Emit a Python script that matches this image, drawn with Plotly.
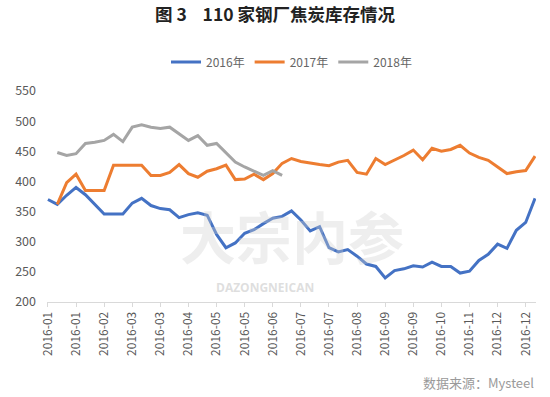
import plotly.graph_objects as go

weeks = [
    "2016-01-01", "2016-01-08", "2016-01-15", "2016-01-22", "2016-01-29",
    "2016-02-05", "2016-02-12", "2016-02-19", "2016-02-26",
    "2016-03-04", "2016-03-11", "2016-03-18", "2016-03-25",
    "2016-04-01", "2016-04-08", "2016-04-15", "2016-04-22", "2016-04-29",
    "2016-05-06", "2016-05-13", "2016-05-20", "2016-05-27",
    "2016-06-03", "2016-06-10", "2016-06-17", "2016-06-24",
    "2016-07-01", "2016-07-08", "2016-07-15", "2016-07-22", "2016-07-29",
    "2016-08-05", "2016-08-12", "2016-08-19", "2016-08-26",
    "2016-09-02", "2016-09-09", "2016-09-16", "2016-09-23", "2016-09-30",
    "2016-10-07", "2016-10-14", "2016-10-21", "2016-10-28",
    "2016-11-04", "2016-11-11", "2016-11-18", "2016-11-25",
    "2016-12-02", "2016-12-09", "2016-12-16", "2016-12-23", "2016-12-30",
]

s2016 = [370, 362, 377, 390, 378, 362, 346, 346, 346, 364, 372, 360, 355, 353,
         340, 345, 348, 344, 312, 290, 298, 314, 320, 330, 339, 342, 351, 336,
         318, 325, 290, 283, 287, 276, 263, 259, 240, 252, 255, 260, 258, 266,
         259, 259, 248, 251, 269, 279, 296, 289, 319, 332, 372]

s2017 = [362, 398, 412, 385, 385, 385, 427, 427, 427, 427, 410, 410, 415, 428,
         413, 407, 417, 421, 427, 403, 404, 412, 403, 413, 430, 438, 433, 430,
         428, 426, 432, 435, 415, 412, 438, 428, 435, 443, 452, 436, 455, 450,
         453, 460, 447, 440, 435, 424, 413, 416, 418, 442]

s2018 = [448, 443, 446, 463, 465, 468, 478, 466, 490, 494, 490, 488, 490, 479,
         468, 476, 460, 463, 448, 432, 424, 417, 410, 418, 410]

tick_weeks = weeks[::3]
tick_labels = ["2016-01", "2016-01", "2016-02", "2016-03", "2016-03", "2016-04",
               "2016-05", "2016-05", "2016-06", "2016-07", "2016-07", "2016-08",
               "2016-09", "2016-09", "2016-10", "2016-11", "2016-12", "2016-12"]

series_names = ["2016年", "2017年", "2018年"]
colors = ["#4472C4", "#ED7D31", "#A5A5A5"]

FONT = "Noto Sans CJK SC"

fig = go.Figure()
fig.add_trace(go.Scatter(x=weeks, y=s2016, mode="lines", name=series_names[0],
                         line=dict(color=colors[0], width=3)))
fig.add_trace(go.Scatter(x=weeks[1:1 + len(s2017)], y=s2017, mode="lines", name=series_names[1],
                         line=dict(color=colors[1], width=3)))
fig.add_trace(go.Scatter(x=weeks[1:1 + len(s2018)], y=s2018, mode="lines", name=series_names[2],
                         line=dict(color=colors[2], width=3)))

fig.update_layout(
    width=550, height=397,
    margin=dict(l=47, r=14, t=91, b=95),
    paper_bgcolor="white", plot_bgcolor="white",
    font=dict(family=FONT, color="#595959", size=12),
    title=dict(text="<b>图 3\u00a0\u00a0\u00a0 110 家钢厂焦炭库存情况</b>", x=0.5, xanchor="center",
               y=0.962, yanchor="middle", font=dict(size=17.5, color="#222222", family=FONT)),
    legend=dict(orientation="h", x=0.5, xanchor="center", y=1.137, yanchor="middle",
                font=dict(size=12, color="#666666", family=FONT),
                itemwidth=30, tracegroupgap=0),
    showlegend=True,
    xaxis=dict(type="category", categoryorder="array", categoryarray=weeks,
               range=[-0.1, len(weeks) - 0.9],
               tickmode="array", tickvals=tick_weeks, ticktext=tick_labels,
               tickangle=-90, tickfont=dict(size=12, color="#595959"),
               showgrid=False, showline=True, linecolor="#D9D9D9", linewidth=1,
               ticks="outside", ticklen=4, tickcolor="#D9D9D9", zeroline=False),
    yaxis=dict(range=[200, 550], dtick=50, tick0=200, showgrid=False,
               showline=False, zeroline=False, tickfont=dict(size=12.5, color="#595959"),
               ticks="", ticklabelstandoff=10),
)

# watermark
fig.add_annotation(text="<b>大宗内参</b>", x=0.5, y=0.32, xref="paper", yref="paper",
                   xanchor="center", yanchor="middle",
                   showarrow=False, font=dict(size=56, color="rgba(205,205,205,0.35)", family=FONT))
fig.add_annotation(text="<b>DAZONGNEICAN</b>", x=0.446, y=0.07, xref="paper", yref="paper",
                   xanchor="center", yanchor="middle",
                   showarrow=False, font=dict(size=12, color="rgba(190,190,190,0.5)", family="Open Sans"))

fig.add_annotation(text="数据来源：Mysteel", x=1.0, y=0.0, xref="paper", yref="paper",
                   yshift=-80, xanchor="right", yanchor="middle", showarrow=False,
                   font=dict(size=13, color="#9a9a9a", family=FONT))

fig.write_html("out.html", config={"displayModeBar": False},
               post_script="document.body.style.margin='0';")
